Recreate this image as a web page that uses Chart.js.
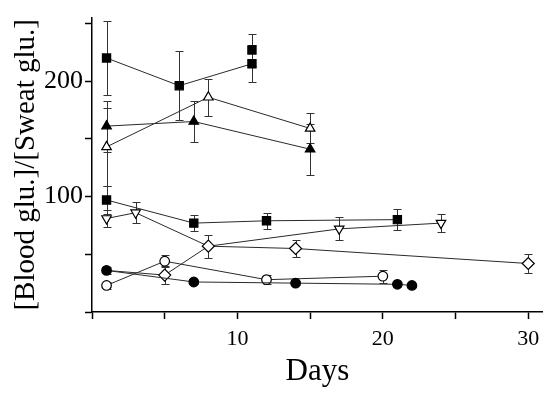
<!DOCTYPE html>
<html>
<head>
<meta charset="utf-8">
<script src="https://cdn.jsdelivr.net/npm/chart.js@4.4.1/dist/chart.umd.min.js"></script>
<style>
  html, body { margin: 0; padding: 0; background: #fff; }
</style>
</head>
<body>
<canvas id="mycanvas" width="550" height="394"></canvas>
<script>
// days, ratio values and error half-widths for each series
const sqTopDays = [1, 6, 11];
const sqTopVals = [220, 196, 215];
const sqTopErr = [32, 30, 16];

const sqExtraDays = [11];
const sqExtraVals = [227];
const sqExtraErr = [14];

const triFillDays = [1, 7, 15];
const triFillVals = [161, 165, 141];
const triFillErr = [22, 18, 22];

const triOpenDays = [1, 8, 15];
const triOpenVals = [143, 186, 159];
const triOpenErr = [34, 16, 13];

const sqLowDays = [1, 7, 12, 21];
const sqLowVals = [97, 77, 79, 80];
const sqLowErr = [12, 7, 7, 9];

const triDownDays = [1, 3, 8, 17, 24];
const triDownVals = [81, 86, 57, 72, 77];
const triDownErr = [7, 9, 0, 10, 8];

const diamondDays = [1, 5, 8, 14, 30];
const diamondVals = [36, 32, 57, 55, 42];
const diamondErr = [0, 7.5, 10, 7.5, 8];

const circFillDays = [1, 7, 14, 21, 22];
const circFillVals = [36, 26, 25, 24, 23];
const circFillErr = [3, 2, 2, 2, 0];

const circOpenDays = [1, 5, 12, 20];
const circOpenVals = [23, 44, 28, 31];
const circOpenErr = [3, 5, 4, 5.5];

const xTicks = [0, 5, 10, 15, 20, 25, 30];
const xTickLabels = { 10: '10', 20: '20', 30: '30' };
const yTicks = [0, 50, 100, 150, 200, 250];
const yTickLabels = { 100: '100', 200: '200' };

const FONT = "'Liberation Serif', 'DejaVu Serif', serif";

function pts(days, vals) {
	return days.map((d, i) => ({ x: d, y: vals[i] }));
}

function series(days, vals, errs, style, filled, extra) {
	return Object.assign({
		data: pts(days, vals),
		errors: errs,
		showLine: true,
		borderColor: '#2a2a2a',
		borderWidth: 1,
		pointStyle: style,
		pointRadius: 5,
		pointBorderColor: '#000',
		pointBorderWidth: 1.2,
		pointBackgroundColor: filled ? '#000' : '#fff',
		tension: 0,
	}, extra || {});
}

// vertical error bars, drawn under the markers
const errorBars = {
	id: 'errorBars',
	beforeDatasetsDraw(chart) {
		const { ctx, scales: { x, y } } = chart;
		ctx.save();
		ctx.strokeStyle = '#333';
		ctx.lineWidth = 1;
		chart.data.datasets.forEach((ds) => {
			ds.data.forEach((p, i) => {
				const e = ds.errors[i];
				if (!e) return;
				const px = Math.round(x.getPixelForValue(p.x)) + 0.5;
				const top = Math.round(y.getPixelForValue(p.y + e)) + 0.5;
				const bot = Math.round(y.getPixelForValue(p.y - e)) + 0.5;
				ctx.beginPath();
				ctx.moveTo(px, top);
				ctx.lineTo(px, bot);
				ctx.moveTo(px - 4, top);
				ctx.lineTo(px + 4, top);
				ctx.moveTo(px - 4, bot);
				ctx.lineTo(px + 4, bot);
				ctx.stroke();
			});
		});
		ctx.restore();
	},
};

new Chart(document.getElementById('mycanvas'), {
	type: 'scatter',
	data: {
		datasets: [
			series(circFillDays, circFillVals, circFillErr, 'circle', true, { pointRadius: 4.8 }),
			series(circOpenDays, circOpenVals, circOpenErr, 'circle', false, { pointRadius: 4.8 }),
			series(diamondDays, diamondVals, diamondErr, 'rectRot', false, { pointRadius: [0, 6, 6, 6, 6] }),
			series(triDownDays, triDownVals, triDownErr, 'triangle', false, { pointRotation: 180, pointRadius: [5.5, 5.5, 0, 5.5, 5.5] }),
			series(sqLowDays, sqLowVals, sqLowErr, 'rect', true, { pointRadius: 5.8 }),
			series(triFillDays, triFillVals, triFillErr, 'triangle', true, { pointRadius: 5.5 }),
			series(triOpenDays, triOpenVals, triOpenErr, 'triangle', false, { pointRadius: 5.5 }),
			series(sqExtraDays, sqExtraVals, sqExtraErr, 'rect', true, { pointRadius: 5.8, showLine: false }),
			series(sqTopDays, sqTopVals, sqTopErr, 'rect', true, { pointRadius: 5.8 }),
		],
	},
	options: {
		responsive: false,
		animation: false,
		layout: { padding: { top: 11, right: 5, left: 0, bottom: 0 } },
		plugins: {
			legend: { display: false },
			tooltip: { enabled: false },
		},
		scales: {
			x: {
				type: 'linear',
				min: 0,
				max: 31,
				afterBuildTicks(scale) { scale.ticks = xTicks.map((v) => ({ value: v })); },
				afterFit(scale) { scale.height = 82; },
				border: { display: true, color: '#000', width: 1.5 },
				grid: { drawOnChartArea: false, drawTicks: true, tickLength: 7, tickColor: '#000', tickWidth: 1.5 },
				ticks: {
					autoSkip: false,
					maxRotation: 0,
					padding: 7,
					color: '#000',
					font: { family: FONT, size: 22 },
					callback: (v) => xTickLabels[v] || '',
				},
				title: {
					display: true,
					text: 'Days',
					color: '#000',
					font: { family: FONT, size: 31 },
					padding: { top: 0 },
				},
			},
			y: {
				type: 'linear',
				min: 0,
				max: 255,
				afterBuildTicks(scale) { scale.ticks = yTicks.map((v) => ({ value: v })); },
				afterFit(scale) { scale.width = 92; },
				border: { display: true, color: '#000', width: 1.5 },
				grid: { drawOnChartArea: false, drawTicks: true, tickLength: 7, tickColor: '#000', tickWidth: 1.5 },
				ticks: {
					autoSkip: false,
					padding: 2,
					color: '#000',
					font: { family: FONT, size: 26 },
					callback: (v) => yTickLabels[v] || '',
				},
				title: {
					display: true,
					text: '[Blood glu.]/[Sweat glu.]',
					color: '#000',
					font: { family: FONT, size: 29 },
					padding: { top: 9, bottom: 0 },
				},
			},
		},
	},
	plugins: [errorBars],
});
</script>
</body>
</html>
